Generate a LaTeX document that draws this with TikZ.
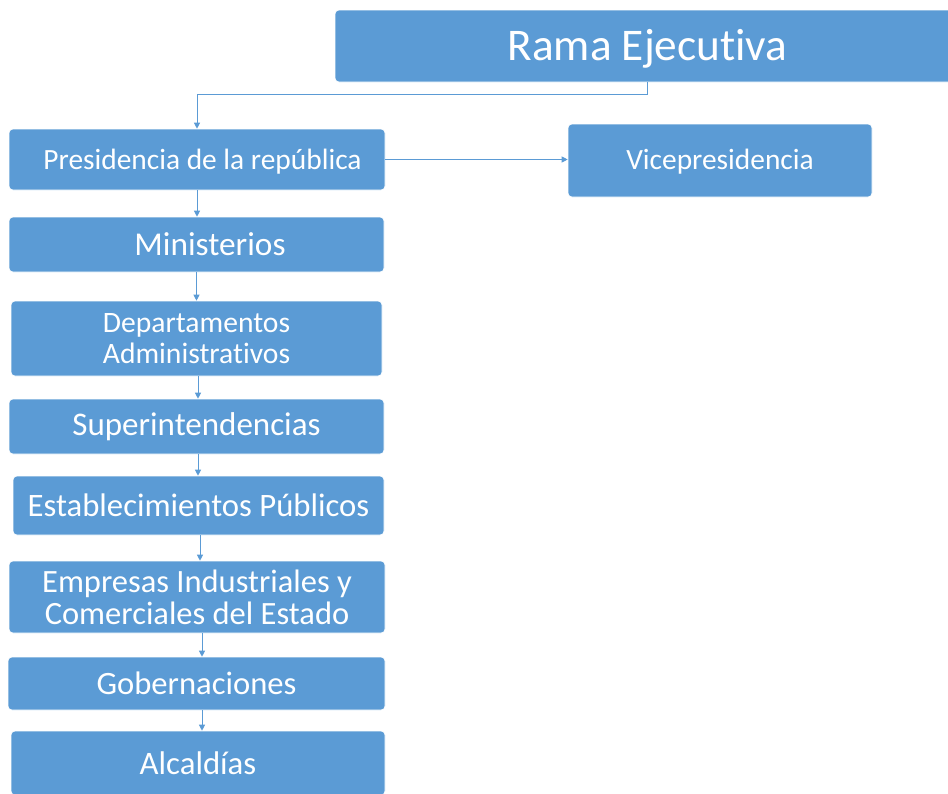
\documentclass[tikz,border=0pt]{standalone}
\usepackage{fontspec}
\setmainfont{Carlito}[Ligatures={NoCommon}]
\usetikzlibrary{arrows.meta}
\definecolor{boxblue}{HTML}{5B9BD5}
\newcommand{\lowertxt}[2]{\raisebox{-#1}[\height][\depth]{#2}}
\tikzset{
  box/.style={rectangle, rounded corners=4pt, fill=boxblue, draw=white, line width=0.6pt,
    text=white, align=center, inner sep=0pt},
  arr/.style={draw=boxblue, line width=1pt, -{Triangle[width=6pt,length=6pt]}},
  fs/.style={font=\fontsize{#1}{40}\selectfont}
}
\begin{document}
\begin{tikzpicture}[x=1pt,y=-1pt]
\useasboundingbox (0,0) rectangle (948,793);
\node[box, minimum width=625, minimum height=72, fs=45.3] (rama) at (647.5,46) {\lowertxt{2.5pt}{Rama Ejecutiva}};
\node[box, minimum width=376, minimum height=61, fs=29.4] (pres) at (197,159.5) {\hspace*{11pt}\lowertxt{2pt}{Presidencia de la república}};
\node[box, minimum width=304, minimum height=73, fs=29.4] (vice) at (720,160.5) {\lowertxt{1.5pt}{Vicepresidencia}};
\node[box, minimum width=375, minimum height=55, fs=33.3] (min) at (196.5,244.5) {\hspace*{27pt}Ministerios};
\node[box, minimum width=371, minimum height=75, font=\fontsize{29.6}{30.5}\selectfont] (dep) at (196.5,338.5) {Departamentos\\Administrativos};
\node[box, minimum width=375, minimum height=55, fs=33] (sup) at (196.5,426.5) {Superintendencias};
\node[box, minimum width=371, minimum height=59, fs=32.7] (est) at (198.5,505.5) {Establecimientos Públicos};
\node[box, minimum width=376, minimum height=72, font=\fontsize{32.5}{32}\selectfont] (emp) at (197,597) {Empresas Industriales y\\Comerciales del Estado};
\node[box, minimum width=377, minimum height=53, fs=32.6] (gob) at (196.5,683.5) {Gobernaciones};
\node[box, minimum width=374, minimum height=64, fs=32.8] (alc) at (198,763) {Alcaldías};
\draw[arr] (rama.south) -- ++(0,12) -| (pres.north);
\draw[arr] (pres.east) -- (pres.east -| vice.west);
\draw[arr] (pres.south) -- (pres.south |- min.north);
\draw[arr] (min.south) -- (min.south |- dep.north);
\draw[arr] ([xshift=1.5pt]dep.south) -- ([xshift=1.5pt]dep.south |- sup.north);
\draw[arr] ([xshift=1.5pt]sup.south) -- ([xshift=1.5pt]sup.south |- est.north);
\draw[arr] ([xshift=1.5pt]est.south) -- ([xshift=1.5pt]est.south |- emp.north);
\draw[arr] ([xshift=5pt]emp.south) -- ([xshift=5pt]emp.south |- gob.north);
\draw[arr] ([xshift=5.5pt]gob.south) -- ([xshift=5.5pt]gob.south |- alc.north);
\end{tikzpicture}
\end{document}
